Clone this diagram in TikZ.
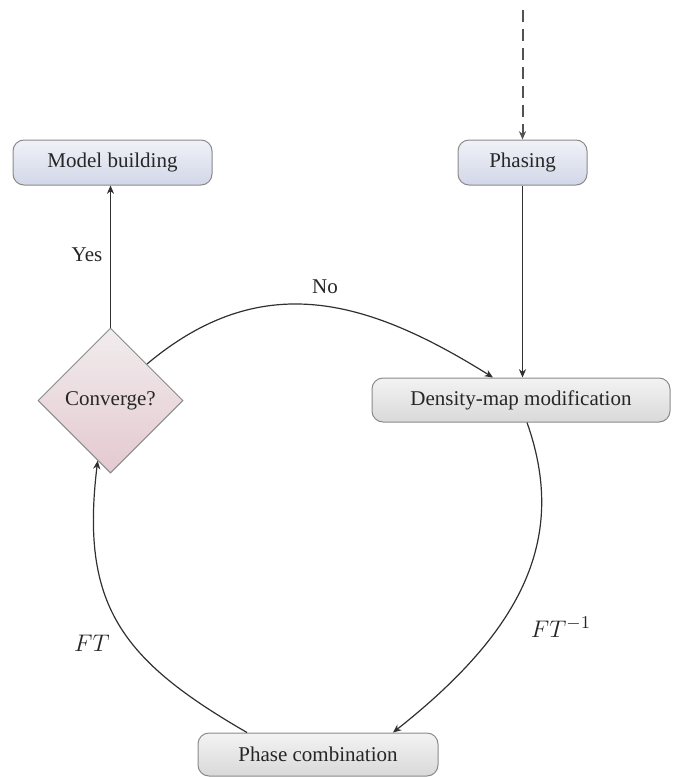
\documentclass[tikz,border=0pt]{standalone}
\usepackage{fontspec}
\setmainfont{Liberation Serif}
\usetikzlibrary{shapes.geometric,arrows.meta}
\definecolor{bluetop}{HTML}{F0F2F8}
\definecolor{bluebot}{HTML}{D2D7E8}
\definecolor{graytop}{HTML}{F3F3F3}
\definecolor{graybot}{HTML}{D9D9D9}
\definecolor{pinktop}{HTML}{F1ECED}
\definecolor{pinkbot}{HTML}{E4C9D1}
\definecolor{edgecol}{HTML}{8A8A8A}
\definecolor{linecol}{HTML}{303030}
\begin{document}
\begin{tikzpicture}[x=0.5pt,y=-0.5pt,
  every node/.style={font=\fontsize{10.5}{12}\selectfont, text=black!85},
  boxbase/.style={draw=edgecol, line width=0.5pt, rounded corners=5.5pt, inner sep=0pt},
  bluebox/.style={boxbase, top color=bluetop, bottom color=bluebot, minimum height=22.5pt},
  graybox/.style={boxbase, top color=graytop, bottom color=graybot},
  decision/.style={diamond, draw=edgecol, line width=0.5pt, top color=pinktop, bottom color=pinkbot, minimum width=72.5pt, minimum height=72.5pt, inner sep=0pt},
  arrowline/.style={draw=linecol, line width=0.6pt, -{Stealth[length=4.2pt,width=3.6pt]}},
  dasharrow/.style={draw=black!68, line width=1pt, dash pattern=on 6pt off 3.5pt, -{Stealth[length=4.2pt,width=3.6pt]}},
  mathlabel/.style={font=\fontsize{13}{15}\selectfont}
]
\useasboundingbox (0,0) rectangle (673,777);

\node[bluebox, minimum width=99.5pt] (model) at (112.5,162.5) {Model building};
\node[bluebox, minimum width=64.5pt] (phasing) at (522.5,162.5) {Phasing};
\node[graybox, minimum width=149pt, minimum height=22pt] (dens) at (521,400) {Density-map modification};
\node[graybox, minimum width=120pt, minimum height=21.5pt] (comb) at (318,754.5) {Phase combination};
\node[decision] (conv) at (110.5,400.5) {Converge?};
\coordinate (src) at (522.5,10);

\draw[dasharrow] (src) -- (phasing.north);
\draw[arrowline] (phasing.south) -- (phasing.south |- dens.north);
\draw[arrowline] (conv.north) -- (conv.north |- model.south);
\draw[arrowline] (conv.north east) to[out=40,in=148,looseness=1.1] ([xshift=-14pt]dens.north);
\draw[arrowline] ([xshift=3pt]dens.south) .. controls +(40,113) and +(133,-105) .. ([xshift=37.5pt]comb.north);
\draw[arrowline] ([xshift=-35.5pt]comb.north) to[out=150,in=-97,looseness=1.2] (conv.-102);

\node (yes) at (87,255) {Yes};
\node (no) at (325,287) {No};
\node[mathlabel] (ft) at (92,643) {$FT$};
\node[mathlabel] (fti) at (561,627) {$FT^{-1}$};
\end{tikzpicture}
\end{document}
